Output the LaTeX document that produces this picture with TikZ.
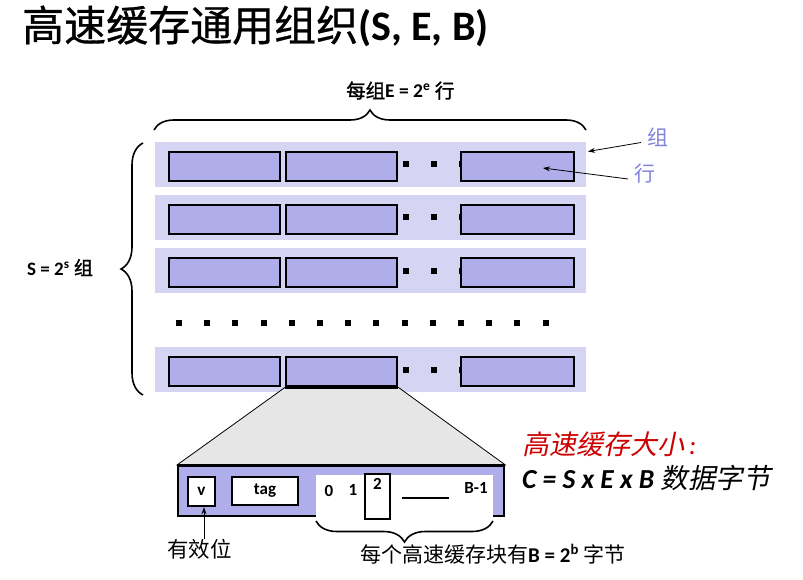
\documentclass[tikz,border=0pt]{standalone}
\usepackage{fontspec}
\setmainfont{Carlito}
\newfontfamily\cjk{Noto Sans CJK SC}
\newfontfamily\cjkt[FakeBold=0.8]{Noto Sans CJK SC}
\newfontfamily\cjkb[FakeBold=1.4]{Noto Sans CJK SC}
\newfontfamily\cjkit[FakeSlant=0.2]{Noto Sans CJK SC}
\usetikzlibrary{decorations.pathreplacing,arrows.meta}
\definecolor{rowbg}{RGB}{213,213,243}
\definecolor{boxfill}{RGB}{175,173,234}
\definecolor{lblue}{RGB}{130,130,220}
\definecolor{trapgray}{RGB}{230,230,230}
\definecolor{sizered}{RGB}{204,0,0}
\tikzset{
  rowrect/.style={fill=rowbg, draw=none, inner sep=0pt, anchor=north west, minimum width=431pt, minimum height=45pt},
  linebox/.style={fill=boxfill, draw=black, line width=2.4pt, inner sep=0pt, anchor=north west, minimum width=111pt, minimum height=29pt},
  dotsq/.style={fill=black, draw=none, inner sep=0pt, minimum size=6pt},
  txt/.style={inner sep=0pt, anchor=base west},
  cbrace/.style={decorate, decoration={brace, amplitude=#1}, line width=1.6pt},
  thinarrow/.style={-{Stealth[length=7pt,width=5pt]}, line width=0.8pt},
  whitebox/.style={fill=white, draw=black, line width=2.4pt, inner sep=0pt},
  lbl/.style={inner sep=0pt, font=\fontsize{17}{17}\selectfont\bfseries}
}
\begin{document}
\begin{tikzpicture}[x=1pt,y=-1pt]
\useasboundingbox (0,0) rectangle (803,580);
% title
\node[txt] (title) at (22,41) {\fontsize{42}{42}\selectfont\cjkt 高速缓存通用组织\rmfamily\bfseries(S, E, B)};
% rows
\foreach \i/\t in {1/142,2/195,3/248,4/347}{
  \node[rowrect] (row\i) at (155,\t) {};
  \node[dotsq] (d\i a) at (406,{\t+22.5}) {};
  \node[dotsq] (d\i b) at (434,{\t+22.5}) {};
  \node[dotsq] (d\i c) at (462,{\t+22.5}) {};
  \node[linebox] (b\i a) at (168,{\t+9}) {};
  \node[linebox] (b\i b) at (285,{\t+9}) {};
  \node[linebox, minimum width=113pt] (b\i c) at (460,{\t+9}) {};
}
% ellipsis row
\foreach \k in {0,...,13}{
  \node[dotsq] (e\k) at ({179+\k*28.2},323) {};
}
% braces
\coordinate (tbL) at (154,130);
\coordinate (tbR) at (586,130);
\draw[cbrace=20pt] (tbL) -- (tbR);
\node[txt] (elabel) at (346,98) {\fontsize{19.5}{19.5}\selectfont\cjkb 每组\rmfamily\bfseries E = 2\textsuperscript{e} \cjkb\mdseries 行};
\coordinate (lbB) at (143,395);
\coordinate (lbT) at (143,143);
\draw[cbrace=22pt] (lbB) -- (lbT);
\node[txt] (slabel) at (27,275) {\fontsize{19}{19}\selectfont\bfseries S = 2\textsuperscript{s} \cjkb\mdseries 组};
% set / line labels
\node[txt, text=lblue] (zu) at (647,146) {\fontsize{21}{21}\selectfont\cjk 组};
\node[txt, text=lblue] (hang) at (634,182) {\fontsize{21}{21}\selectfont\cjk 行};
\coordinate (zuS) at (641,142.5);
\coordinate (zuE) at (588,151.5);
\draw[thinarrow] (zuS) -- (zuE);
\coordinate (hangS) at (628,179);
\coordinate (hangE) at (543,168);
\draw[thinarrow] (hangS) -- (hangE);
% big line
\node[fill=boxfill, draw=black, line width=2.4pt, inner sep=0pt, anchor=north west, minimum width=326pt, minimum height=50pt] (big) at (177,465) {};
\draw[fill=trapgray, line width=0.8pt] (b4b.south west) -- (b4b.south east) -- (big.north east) -- (big.north west) -- cycle;
\draw[line width=2.4pt] (b4b.south west) -- (b4b.south east);
\draw[line width=2.4pt] (big.north west) -- (big.north east);
\node[fill=white, inner sep=0pt, anchor=north west, minimum width=177pt, minimum height=46pt] (blk) at (316,475) {};
\node[whitebox, minimum width=27pt, minimum height=29pt] (vbox) at (201.5,491.5) {};
\node[lbl] at (vbox) {v};
\node[whitebox, minimum width=66pt, minimum height=28pt] (tagbox) at (265,491) {};
\node[lbl] at (tagbox) {tag};
\node[lbl] (n0) at (329,491) {0};
\node[lbl] (n1) at (353,490) {1};
\node[whitebox, minimum width=25pt, minimum height=45pt] (box2) at (377.5,496.5) {};
\node[lbl] (n2) at (377.5,484) {2};
\coordinate (lnA) at (402,498);
\coordinate (lnB) at (449,498);
\draw[line width=2.8pt] (lnA) -- (lnB);
\node[lbl] (nB) at (476,488) {B-1};
\coordinate (bbR) at (493,521);
\coordinate (bbL) at (316,521);
\draw[cbrace=21pt] (bbR) -- (bbL);
\node[txt] (blabel) at (360,562) {\fontsize{21}{21}\selectfont\cjk 每个高速缓存块有\rmfamily\bfseries B = 2\textsuperscript{b} \cjk\mdseries 字节};
\node[txt] (valid) at (167,557) {\fontsize{21.5}{21.5}\selectfont\cjk 有效位};
\coordinate (vS) at (204,539);
\draw[thinarrow] (vS) -- (vbox.south -| vS);
% size formula
\node[txt, text=sizered] (sizet) at (522,454) {\fontsize{27}{27}\selectfont\cjkit 高速缓存大小\rmfamily\itshape\kern5pt :};
\node[txt] (formula) at (522,488) {\fontsize{27.5}{27.5}\selectfont\rmfamily\bfseries\itshape C = S x E x B \cjkit\mdseries 数据字节};
\end{tikzpicture}
\end{document}
